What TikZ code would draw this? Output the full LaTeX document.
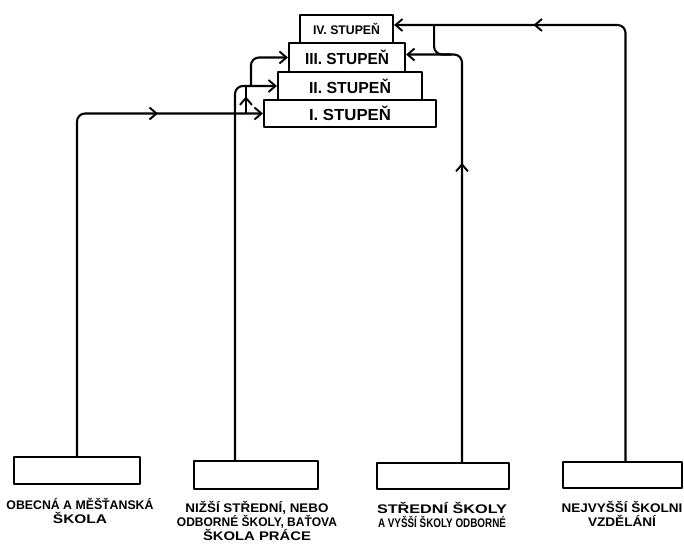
\documentclass[tikz,border=0pt]{standalone}
\usepackage{fontspec}
\usepackage{graphicx}
\setmainfont{Liberation Sans}
\usetikzlibrary{arrows.meta,decorations.markings}
\newcommand\hw[2]{\resizebox{#1pt}{\height}{#2}}
\begin{document}
\begin{tikzpicture}[x=1pt,y=-1pt, line width=2.1pt, line join=round,
  box/.style={draw, rectangle, inner sep=0pt, line width=2.1pt},
  tip/.style={-{Straight Barb[length=7pt,width=12pt,line width=1.9pt]}},
  midarr/.style={postaction={decorate,decoration={markings,
      mark=at position #1 with {\arrow{Straight Barb[length=7pt,width=12pt,line width=1.9pt]}}}}},
  stufe/.style={font=\bfseries\fontsize{16}{16}\selectfont},
  lab/.style={align=center, inner sep=0pt, font=\bfseries\fontsize{12.5}{14}\selectfont},
  conn/.style={rounded corners=8pt}]
\useasboundingbox (0,0) rectangle (684,548);

% stacked boxes
\node[box, stufe, minimum width=172pt, minimum height=27pt] (s1) at (350,113.5) {\hw{82}{I. STUPEŇ}};
\node[box, stufe, minimum width=144pt, minimum height=28pt] (s2) at (350,86) {\hw{82}{II. STUPEŇ}};
\node[box, stufe, minimum width=116pt, minimum height=29pt] (s3) at (347,57.5) {\hw{84}{III. STUPEŇ}};
\node[box, font=\bfseries\fontsize{12.5}{12.5}\selectfont, minimum width=93pt, minimum height=28pt] (s4) at (346.5,29) {\hw{67}{IV. STUPEŇ}};

% bottom boxes
\node[box, minimum width=126pt, minimum height=27pt] (b1) at (77,470.5) {};
\node[box, minimum width=124pt, minimum height=28pt] (b2) at (256,475) {};
\node[box, minimum width=132pt, minimum height=26pt] (b3) at (443,476) {};
\node[box, minimum width=119pt, minimum height=26pt] (b4) at (622.5,475) {};

% labels
\node[lab] (t1) at (80,511) {\hw{147}{OBECNÁ A MĚŠŤANSKÁ}\\\hw{54}{ŠKOLA}};
\node[lab] (t2) at (257,521) {\hw{143}{NIŽŠÍ STŘEDNÍ, NEBO}\\\hw{160}{ODBORNÉ ŠKOLY, BAŤOVA}\\\hw{108}{ŠKOLA PRÁCE}};
\node[lab] (t3) at (442,515) {\hw{130}{STŘEDNÍ ŠKOLY}\\\hw{128}{A VYŠŠÍ ŠKOLY ODBORNÉ}};
\node[lab] (t4) at (622,514) {\hw{121}{NEJVYŠŠÍ ŠKOLNI}\\\hw{68}{VZDĚLÁNÍ}};

% left connectors
\draw[conn, tip, midarr=0.8] (b1.north) |- (s1.west);
\draw[conn, tip] ([xshift=-21pt]b2.north) |- (s2.west);
\coordinate (j1) at ([xshift=-17pt]s1.west);
\draw[midarr=0.62] (j1) -- (j1 |- s2.west);
\draw[conn, tip] ([xshift=-26pt]s2.west) |- (s3.west);

% right connectors
\draw[conn, tip, midarr=0.65] ([xshift=19pt]b3.north) |- ([yshift=3pt]s3.east);
\draw[conn, tip, midarr=0.79] ([xshift=3pt]b4.north) |- ([yshift=4pt]s4.east);
\coordinate (j3) at ([xshift=40pt,yshift=4pt]s4.east);
\draw[conn] (j3) |- ([xshift=45pt,yshift=3pt]s3.east);
\end{tikzpicture}
\end{document}
